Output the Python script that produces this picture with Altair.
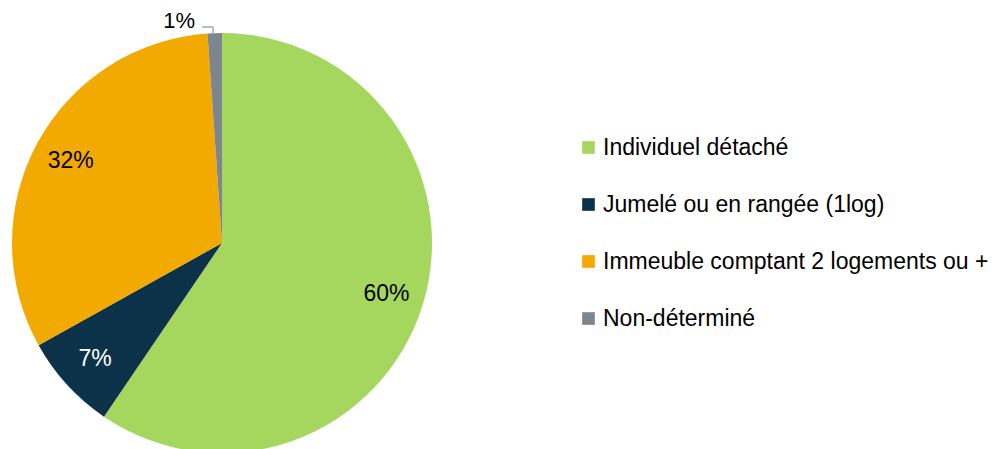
import altair as alt
import pandas as pd

categories = ["Individuel détaché", "Jumelé ou en rangée (1log)",
              "Immeuble comptant 2 logements ou +", "Non-déterminé"]
values = [59.5, 7.4, 32.0, 1.1]
labels = ["60%", "7%", "32%", "1%"]
colors = ["#A5D75F", "#0B3249", "#F2A900", "#7D868C"]

df = pd.DataFrame({"cat": categories, "val": values, "lab": labels,
                   "ord": list(range(len(categories)))})

CX, CY, R = 214, 235, 210
FONT = "Liberation Sans"
FS = 23

base = alt.Chart(df).encode(
    theta=alt.Theta("val:Q", stack=True),
    order=alt.Order("ord:Q"),
)

pie = base.mark_arc(outerRadius=R, stroke=None).encode(
    x=alt.value(CX), y=alt.value(CY),
    color=alt.Color("cat:N", sort=categories,
                    scale=alt.Scale(domain=categories, range=colors),
                    legend=alt.Legend(title=None, orient="none",
                                      legendX=569, legendY=128,
                                      symbolType="square", symbolSize=160,
                                      symbolStrokeWidth=0,
                                      labelFont=FONT, labelFontSize=FS,
                                      labelColor="#000000", labelOffset=3,
                                      rowPadding=33, labelLimit=600)),
)

inner = base.mark_text(radius=172, font=FONT, fontSize=FS).encode(
    x=alt.value(CX), y=alt.value(CY),
    text="lab:N",
    color=alt.condition(alt.datum.ord == 1, alt.value("#ffffff"), alt.value("#000000")),
    opacity=alt.condition(alt.datum.ord == 3, alt.value(0), alt.value(1)),
)

outer = base.mark_text(radius=226, font=FONT, fontSize=22, dx=-35, dy=4).encode(
    x=alt.value(CX), y=alt.value(CY),
    text="lab:N",
    opacity=alt.condition(alt.datum.ord == 3, alt.value(1), alt.value(0)),
)

leader_h = alt.Chart(pd.DataFrame({"a": [0]})).mark_rule(color="#A6A6A6", strokeWidth=1.5).encode(
    x=alt.value(194), x2=alt.value(205), y=alt.value(19))
leader_v = alt.Chart(pd.DataFrame({"a": [0]})).mark_rule(color="#A6A6A6", strokeWidth=1.5).encode(
    x=alt.value(205), y=alt.value(19), y2=alt.value(26))

chart = alt.layer(pie, inner, outer, leader_h, leader_v).properties(
    width=992, height=441, padding=0, autosize=alt.AutoSizeParams(type="none")
).configure_view(stroke=None)

chart.save("out.html", embed_options={"renderer": "svg", "actions": False})
